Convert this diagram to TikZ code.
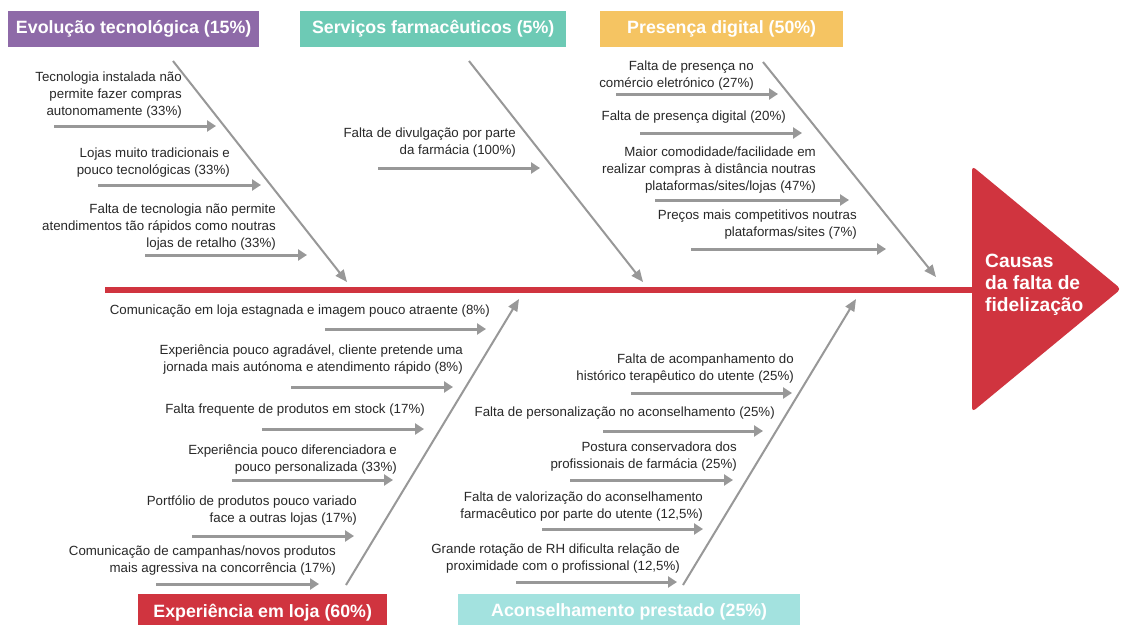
\documentclass[tikz,border=0pt]{standalone}
\usepackage{fontspec}
\setmainfont{Liberation Sans}
\usetikzlibrary{arrows.meta, positioning}
\definecolor{evopurple}{RGB}{142,106,168}
\definecolor{servteal}{RGB}{109,202,181}
\definecolor{digorange}{RGB}{245,196,98}
\definecolor{fishred}{RGB}{208,52,63}
\definecolor{aconcyan}{RGB}{163,226,223}
\definecolor{bonegray}{RGB}{152,152,152}
\definecolor{textgray}{RGB}{40,40,40}
\tikzset{
	title/.style = {rectangle, anchor = north west, minimum height = 36pt, inner sep = 0pt, text centered, text = white, font = {\fontsize{17.8pt}{20pt}\selectfont\bfseries}},
	cause/.style = {rectangle, inner sep = 0pt, align = right, anchor = south east, text = textgray, font = {\fontsize{13.3pt}{16.8pt}\selectfont}},
	effect/.style = {rectangle, inner sep = 0pt, align = left, anchor = west, text = white, font = {\fontsize{19.2pt}{22pt}\selectfont\bfseries}},
	arrow/.style = {-{Triangle[length = 9pt, width = 11pt]}, draw = bonegray, line width = 3pt},
	bone/.style = {-{Triangle[length = 12pt, width = 10pt]}, draw = bonegray, line width = 2pt},
	spine/.style = {draw = fishred, line width = 6.5pt}
}

\begin{document}
\begin{tikzpicture}[x = 1pt, y = -1pt]
	\clip (0,0) rectangle (1121,624);
	\fill[white] (0,0) rectangle (1121,624);
	
	%%%%%%%% head and spine %%%%%%%%
	\fill[fishred, rounded corners = 4pt] (972,166) -- (1121,289) -- (972,412) -- cycle;
	\node (effect) [effect] at (985,285) {Causas\\da falta de\\fidelização};
	\coordinate (spinestart) at (105,290);
	\coordinate (spineend) at (976,290);
	\draw [spine] (spinestart) -- (spineend);
	
	%%%%%%%% category boxes %%%%%%%%
	\node (evo) [title, fill = evopurple, minimum width = 251pt] at (8,11) {Evolução tecnológica (15\%)};
	\node (serv) [title, fill = servteal, minimum width = 266pt] at (300,11) {Serviços farmacêuticos (5\%)};
	\node (dig) [title, fill = digorange, minimum width = 243pt] at (600,11) {Presença digital (50\%)};
	\node (loja) [title, fill = fishred, minimum width = 249pt] at (138,594) {Experiência em loja (60\%)};
	\node (acon) [title, fill = aconcyan, minimum width = 342pt] at (458,594) {Aconselhamento prestado (25\%)};
	
	%%%%%%%% bones %%%%%%%%
	\coordinate (evotop) at (173,61);
	\coordinate (evoend) at (347,282);
	\coordinate (servtop) at (469,61);
	\coordinate (servend) at (643,282);
	\coordinate (digtop) at (763,62);
	\coordinate (digend) at (936,277);
	\coordinate (lojabot) at (346,585);
	\coordinate (lojaend) at (519,299);
	\coordinate (aconbot) at (683,585);
	\coordinate (aconend) at (856,299);
	\draw [bone] (evotop) -- (evoend);
	\draw [bone] (servtop) -- (servend);
	\draw [bone] (digtop) -- (digend);
	\draw [bone] (lojabot) -- (lojaend);
	\draw [bone] (aconbot) -- (aconend);
	
	%% evolução tecnológica
	\node (evo1) [cause] at (182,118) {Tecnologia instalada não\\permite fazer compras\\autonomamente (33\%)};
	\node (evo2) [cause] at (230,177) {Lojas muito tradicionais e\\pouco tecnológicas (33\%)};
	\node (evo3) [cause] at (276,250) {Falta de tecnologia não permite\\atendimentos tão rápidos como noutras\\lojas de retalho (33\%)};
	\coordinate (evo1s) at (54,126);  \coordinate (evo1e) at (216,126);
	\coordinate (evo2s) at (98,185);  \coordinate (evo2e) at (261,185);
	\coordinate (evo3s) at (145,255); \coordinate (evo3e) at (307,255);
	
	%% serviços farmacêuticos
	\node (serv1) [cause] at (516,157) {Falta de divulgação por parte\\da farmácia (100\%)};
	\coordinate (serv1s) at (378,168); \coordinate (serv1e) at (540,168);
	
	%% presença digital
	\node (dig1) [cause] at (754,90) {Falta de presença no\\comércio eletrónico (27\%)};
	\node (dig2) [cause] at (786,124) {Falta de presença digital (20\%)};
	\node (dig3) [cause] at (816,193) {Maior comodidade/facilidade em\\realizar compras à distância noutras\\plataformas/sites/lojas (47\%)};
	\node (dig4) [cause] at (857,239) {Preços mais competitivos noutras\\plataformas/sites (7\%)};
	\coordinate (dig1s) at (616,94);  \coordinate (dig1e) at (778,94);
	\coordinate (dig2s) at (640,133); \coordinate (dig2e) at (802,133);
	\coordinate (dig3s) at (655,200); \coordinate (dig3e) at (849,200);
	\coordinate (dig4s) at (691,249); \coordinate (dig4e) at (886,249);
	
	%% experiência em loja
	\node (loja1) [cause] at (490,318) {Comunicação em loja estagnada e imagem pouco atraente (8\%)};
	\node (loja2) [cause] at (463,374) {Experiência pouco agradável, cliente pretende uma\\jornada mais autónoma e atendimento rápido (8\%)};
	\node (loja3) [cause] at (425,416) {Falta frequente de produtos em stock (17\%)};
	\node (loja4) [cause] at (397,474) {Experiência pouco diferenciadora e\\pouco personalizada (33\%)};
	\node (loja5) [cause] at (357,525) {Portfólio de produtos pouco variado\\face a outras lojas (17\%)};
	\node (loja6) [cause] at (336,575) {Comunicação de campanhas/novos produtos\\mais agressiva na concorrência (17\%)};
	\coordinate (loja1s) at (325,329); \coordinate (loja1e) at (486,329);
	\coordinate (loja2s) at (291,387); \coordinate (loja2e) at (453,387);
	\coordinate (loja3s) at (262,429); \coordinate (loja3e) at (424,429);
	\coordinate (loja4s) at (232,480); \coordinate (loja4e) at (393,480);
	\coordinate (loja5s) at (192,536); \coordinate (loja5e) at (354,536);
	\coordinate (loja6s) at (156,584); \coordinate (loja6e) at (319,584);
	
	%% aconselhamento prestado
	\node (acon1) [cause] at (794,383) {Falta de acompanhamento do\\histórico terapêutico do utente (25\%)};
	\node (acon2) [cause] at (775,420) {Falta de personalização no aconselhamento (25\%)};
	\node (acon3) [cause] at (737,471) {Postura conservadora dos\\profissionais de farmácia (25\%)};
	\node (acon4) [cause] at (703,521) {Falta de valorização do aconselhamento\\farmacêutico por parte do utente (12,5\%)};
	\node (acon5) [cause] at (680,573) {Grande rotação de RH dificulta relação de\\proximidade com o profissional (12,5\%)};
	\coordinate (acon1s) at (631,393); \coordinate (acon1e) at (792,393);
	\coordinate (acon2s) at (603,431); \coordinate (acon2e) at (763,431);
	\coordinate (acon3s) at (570,480); \coordinate (acon3e) at (733,480);
	\coordinate (acon4s) at (542,529); \coordinate (acon4e) at (703,529);
	\coordinate (acon5s) at (516,582); \coordinate (acon5e) at (677,582);
	
	%%% arrows %%%
	\draw [arrow] (evo1s) -- (evo1e);
	\draw [arrow] (evo2s) -- (evo2e);
	\draw [arrow] (evo3s) -- (evo3e);
	\draw [arrow] (serv1s) -- (serv1e);
	\draw [arrow] (dig1s) -- (dig1e);
	\draw [arrow] (dig2s) -- (dig2e);
	\draw [arrow] (dig3s) -- (dig3e);
	\draw [arrow] (dig4s) -- (dig4e);
	\draw [arrow] (loja1s) -- (loja1e);
	\draw [arrow] (loja2s) -- (loja2e);
	\draw [arrow] (loja3s) -- (loja3e);
	\draw [arrow] (loja4s) -- (loja4e);
	\draw [arrow] (loja5s) -- (loja5e);
	\draw [arrow] (loja6s) -- (loja6e);
	\draw [arrow] (acon1s) -- (acon1e);
	\draw [arrow] (acon2s) -- (acon2e);
	\draw [arrow] (acon3s) -- (acon3e);
	\draw [arrow] (acon4s) -- (acon4e);
	\draw [arrow] (acon5s) -- (acon5e);
\end{tikzpicture}
\end{document}
